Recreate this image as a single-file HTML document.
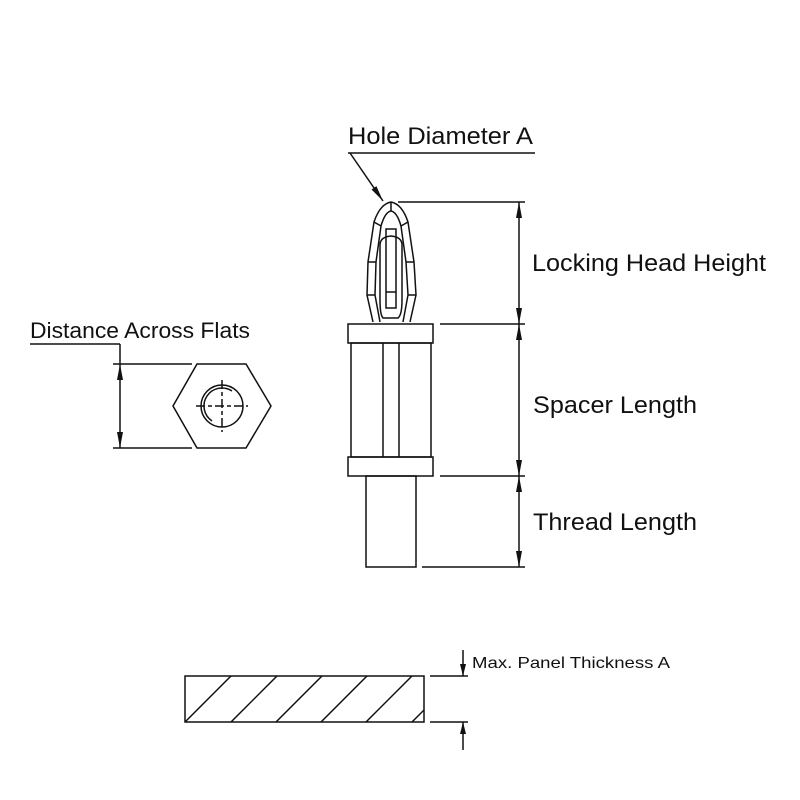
<!DOCTYPE html>
<html><head><meta charset="utf-8"><style>body{margin:0;background:#fff}svg{display:block}text{font-family:"Liberation Sans",Arial,sans-serif;fill:#111}</style></head>
<body>
<svg width="800" height="800" viewBox="0 0 800 800" xmlns="http://www.w3.org/2000/svg">
<defs>
<marker id="a" viewBox="0 0 16 6" refX="16" refY="3" markerWidth="16" markerHeight="6" orient="auto" markerUnits="userSpaceOnUse" preserveAspectRatio="none"><path d="M0,0 L16,3 L0,6 z" fill="#111"/></marker>
<marker id="s" viewBox="0 0 12 6" refX="12" refY="3" markerWidth="12" markerHeight="6" orient="auto" markerUnits="userSpaceOnUse" preserveAspectRatio="none"><path d="M0,0 L12,3 L0,6 z" fill="#111"/></marker>
<clipPath id="pc"><rect x="185" y="676" width="239" height="46"/></clipPath>
</defs>
<g stroke="#111" stroke-width="1.5" fill="none">
<text x="348" y="144" font-size="24" stroke="none" textLength="185" lengthAdjust="spacingAndGlyphs">Hole Diameter A</text>
<line x1="348" y1="153" x2="535" y2="153"/>
<line x1="350" y1="153" x2="383" y2="201" marker-end="url(#a)"/>
<path d="M373,322 L367,295 L368,262 L374,222 Q380,204 391,202 Q402,204 408,222 L414,262 L416,295 L410,322"/>
<path d="M380,322 L375,295 L376,262 L381,226 Q385,212 391,211 Q397,212 401,226 L406,262 L408,295 L403,322"/>
<path d="M383,318 Q380,315 380,300 L380,245 Q380,237 391,236 Q402,237 402,245 L402,300 Q402,315 398,318 Z"/>
<rect x="386" y="229" width="10" height="79"/>
<line x1="386" y1="292" x2="396" y2="292"/>
<line x1="374" y1="222" x2="381" y2="226"/><line x1="408" y1="222" x2="401" y2="226"/>
<line x1="368" y1="262" x2="376" y2="262"/><line x1="414" y1="262" x2="406" y2="262"/>
<line x1="367" y1="295" x2="375" y2="295"/><line x1="416" y1="295" x2="408" y2="295"/>
<line x1="391" y1="202" x2="391" y2="211"/>
<rect x="348" y="324" width="85" height="19"/>
<rect x="351" y="343" width="80" height="114"/>
<line x1="383" y1="343" x2="383" y2="457"/><line x1="399" y1="343" x2="399" y2="457"/>
<rect x="348" y="457" width="85" height="19"/>
<rect x="366" y="476" width="50" height="91"/>
<line x1="398" y1="202" x2="525" y2="202"/>
<line x1="440" y1="324" x2="525" y2="324"/>
<line x1="440" y1="476" x2="525" y2="476"/>
<line x1="422" y1="567" x2="525" y2="567"/>
<line x1="519" y1="263" x2="519" y2="202" marker-end="url(#a)"/>
<line x1="519" y1="263" x2="519" y2="324" marker-end="url(#a)"/>
<line x1="519" y1="400" x2="519" y2="324" marker-end="url(#a)"/>
<line x1="519" y1="400" x2="519" y2="476" marker-end="url(#a)"/>
<line x1="519" y1="521" x2="519" y2="476" marker-end="url(#a)"/>
<line x1="519" y1="521" x2="519" y2="567" marker-end="url(#a)"/>
<text x="532" y="271" font-size="24" stroke="none" textLength="234" lengthAdjust="spacingAndGlyphs">Locking Head Height</text>
<text x="533" y="413" font-size="24" stroke="none" textLength="164" lengthAdjust="spacingAndGlyphs">Spacer Length</text>
<text x="533" y="530" font-size="24" stroke="none" textLength="164" lengthAdjust="spacingAndGlyphs">Thread Length</text>
<text x="30" y="338" font-size="22" stroke="none" textLength="220" lengthAdjust="spacingAndGlyphs">Distance Across Flats</text>
<line x1="30" y1="344" x2="120" y2="344"/>
<line x1="120" y1="344" x2="120" y2="364"/>
<line x1="113" y1="364" x2="192" y2="364"/>
<line x1="113" y1="448" x2="192" y2="448"/>
<line x1="120" y1="406" x2="120" y2="364" marker-end="url(#a)"/>
<line x1="120" y1="406" x2="120" y2="448" marker-end="url(#a)"/>
<polygon points="197,364 246,364 271,406 246,448 197,448 173,406"/>
<circle cx="222" cy="406" r="21"/>
<path d="M212,421 A18,18 0 1 1 232,391"/>
<line x1="222" y1="380" x2="222" y2="432" stroke-dasharray="9,3,4,3"/>
<line x1="196" y1="406" x2="248" y2="406" stroke-dasharray="9,3,4,3"/>
<rect x="185" y="676" width="239" height="46"/>
<g clip-path="url(#pc)">
<line x1="185" y1="722" x2="231" y2="676"/><line x1="231" y1="722" x2="277" y2="676"/>
<line x1="276" y1="722" x2="322" y2="676"/><line x1="321" y1="722" x2="367" y2="676"/>
<line x1="366" y1="722" x2="412" y2="676"/><line x1="412" y1="722" x2="458" y2="676"/>
</g>
<line x1="430" y1="676" x2="468" y2="676"/>
<line x1="430" y1="722" x2="468" y2="722"/>
<line x1="463" y1="650" x2="463" y2="676" marker-end="url(#s)"/>
<line x1="463" y1="750" x2="463" y2="722" marker-end="url(#s)"/>
<text x="472" y="668" font-size="16" stroke="none" textLength="198" lengthAdjust="spacingAndGlyphs">Max. Panel Thickness A</text>
</g>
</svg>
</body></html>
